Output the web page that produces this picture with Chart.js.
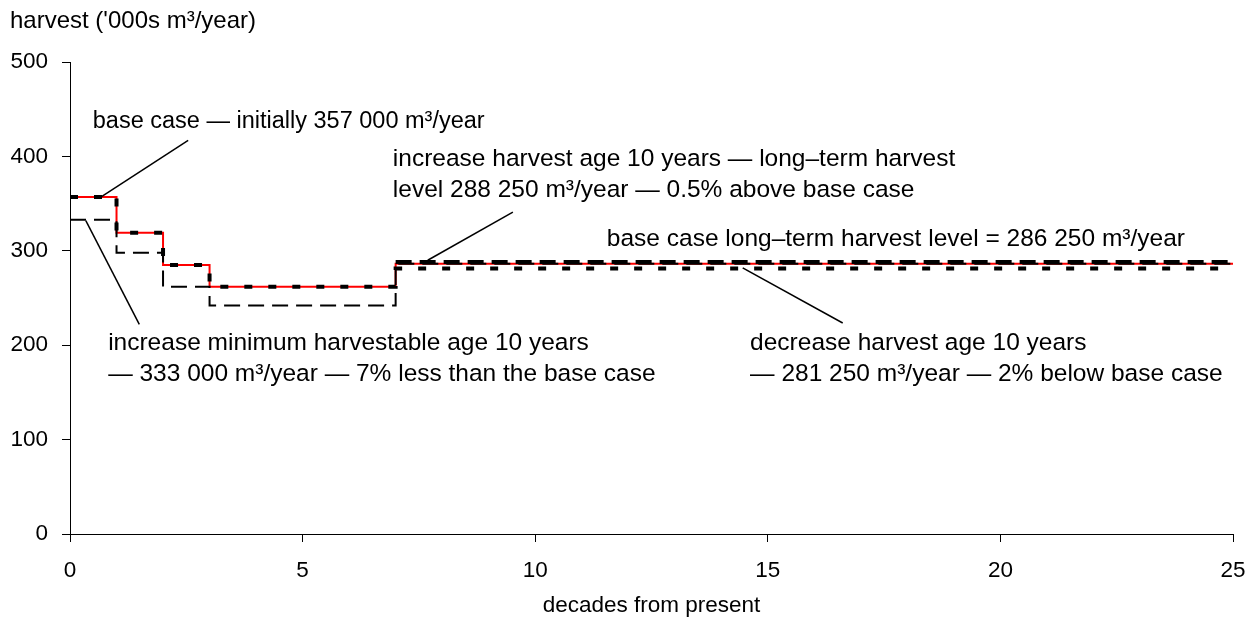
<!DOCTYPE html>
<html>
<head>
<meta charset="utf-8">
<title>harvest</title>
<script src="https://cdn.jsdelivr.net/npm/chart.js@4/dist/chart.umd.min.js"></script>
<style>
html,body{margin:0;padding:0;background:#fff;}
</style>
</head>
<body>
<canvas id="harvestChart" width="1247" height="624"></canvas>
<script>
// decades where the harvest level changes (value holds until the next one)
var decades=[0,1,2,3,7,25];
var baseCase=[357,319,285,262,286.25,286.25];
var incHarvestAge=[null,null,null,null,288.25,288.25];
var decHarvestAge=[357,319,285,262,281.25,281.25];
var incMinAge=[333,298,262,242,286.25,286.25];
var xTicks=[0,5,10,15,20,25];
var yTicks=[0,100,200,300,400,500];

var FONT_SIZE=22.5;
var NOTE_SIZE=24.5;
var FONT_FAMILY='"Liberation Sans", Arial, sans-serif';

// text notes, anchored in chart units (x = decades, y = harvest)
var notes=[
    {x:0.49, y:430, size:23.5, lines:['base case \u2014 initially 357 000 m\u00b3/year']},
    {x:6.94, y:390, size:NOTE_SIZE, lines:['increase harvest age 10 years \u2014 long\u2013term harvest','level 288 250 m\u00b3/year \u2014 0.5% above base case']},
    {x:11.54, y:305, size:NOTE_SIZE, lines:['base case long\u2013term harvest level = 286 250 m\u00b3/year']},
    {x:0.82, y:195, size:NOTE_SIZE, lines:['increase minimum harvestable age 10 years','\u2014 333 000 m\u00b3/year \u2014 7% less than the base case']},
    {x:14.62, y:195, size:NOTE_SIZE, lines:['decrease harvest age 10 years','\u2014 281 250 m\u00b3/year \u2014 2% below base case']}
];
var NOTE_GAP=31;
// leader lines: from [x,y] to [x,y]
var leaders=[
    [0.67,357,2.54,417],
    [7.69,290,9.52,341],
    [14.46,282,16.61,223.5],
    [0.34,332,1.49,222]
];

function pts(ys){
    return decades.map(function(d,i){return {x:d,y:ys[i]};});
}

var notesPlugin={
    id:'notes',
    afterDatasetsDraw:function(chart){
        var ctx=chart.ctx,xs=chart.scales.x,ys=chart.scales.y;
        ctx.save();
        ctx.strokeStyle='#000';
        ctx.lineWidth=1.5;
        ctx.setLineDash([]);
        leaders.forEach(function(l){
            ctx.beginPath();
            ctx.moveTo(xs.getPixelForValue(l[0]),ys.getPixelForValue(l[1]));
            ctx.lineTo(xs.getPixelForValue(l[2]),ys.getPixelForValue(l[3]));
            ctx.stroke();
        });
        ctx.fillStyle='#000';
        ctx.textAlign='left';
        ctx.textBaseline='alphabetic';
        notes.forEach(function(n){
            var x=xs.getPixelForValue(n.x),y=ys.getPixelForValue(n.y);
            ctx.font=n.size+'px '+FONT_FAMILY;
            n.lines.forEach(function(t,i){ctx.fillText(t,x,y+i*NOTE_GAP);});
        });
        // y axis title sits above the axis, horizontal
        ctx.font='24px '+FONT_FAMILY;
        ctx.fillText("harvest ('000s m\u00b3/year)",10,28);
        ctx.restore();
    }
};

Chart.defaults.font.family=FONT_FAMILY;
Chart.defaults.font.size=FONT_SIZE;
Chart.defaults.color='#000';

var ctx=document.getElementById('harvestChart').getContext('2d');
new Chart(ctx,{
    type:'line',
    data:{
        datasets:[
            {
                label:'increase harvest age 10 years',
                data:pts(incHarvestAge),
                borderColor:'#000',
                borderWidth:4,
                borderDash:[16,8],
                order:1
            },
            {
                label:'decrease harvest age 10 years',
                data:pts(decHarvestAge),
                borderColor:'#000',
                borderWidth:4,
                borderDash:[8,16],
                order:2
            },
            {
                label:'increase minimum harvestable age 10 years',
                data:pts(incMinAge),
                borderColor:'#000',
                borderWidth:2,
                borderDash:[16,8],
                order:3
            },
            {
                label:'base case',
                data:pts(baseCase),
                borderColor:'#ff0000',
                borderWidth:2,
                order:4
            }
        ]
    },
    options:{
        responsive:false,
        animation:false,
        devicePixelRatio:1,
        layout:{padding:{top:62,right:0,left:0,bottom:0}},
        elements:{
            line:{stepped:'before',tension:0,fill:false,borderCapStyle:'butt'},
            point:{radius:0,hoverRadius:0}
        },
        plugins:{
            legend:{display:false},
            tooltip:{enabled:false}
        },
        scales:{
            x:{
                type:'linear',
                min:0,
                max:25,
                afterFit:function(s){s.height=90;s.paddingRight=14;},
                afterBuildTicks:function(s){s.ticks=xTicks.map(function(v){return {value:v};});},
                ticks:{padding:15,color:'#000'},
                grid:{drawOnChartArea:false,color:'#000',tickLength:8,tickWidth:1},
                border:{display:true,color:'#000',width:1},
                title:{display:true,text:'decades from present',color:'#000',padding:5}
            },
            y:{
                type:'linear',
                min:0,
                max:500,
                afterFit:function(s){s.width=70;},
                afterBuildTicks:function(s){s.ticks=yTicks.map(function(v){return {value:v};});},
                ticks:{padding:14,color:'#000'},
                grid:{drawOnChartArea:false,color:'#000',tickLength:8,tickWidth:1},
                border:{display:true,color:'#000',width:1}
            }
        }
    },
    plugins:[notesPlugin]
});
</script>
</body>
</html>
